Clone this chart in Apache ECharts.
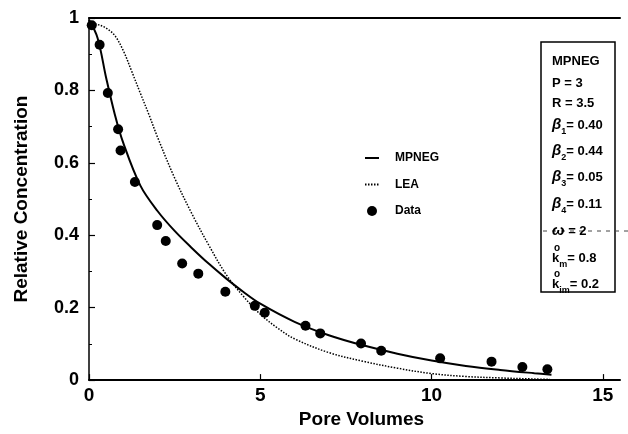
<!DOCTYPE html>
<html>
<head>
<meta charset="utf-8">
<script src="https://cdn.jsdelivr.net/npm/echarts@6/dist/echarts.min.js"></script>
<style>
    html, body { margin: 0; padding: 0; background: #fff; }
    #chart { width: 628px; height: 434px; }
</style>
</head>
<body>
<div id="chart"></div>
<script>
    // measured points
    var dataX = [0.08, 0.31, 0.55, 0.85, 0.92, 1.34, 1.99, 2.24, 2.72, 3.19, 3.98, 4.84, 5.13, 6.32, 6.75, 7.94, 8.53, 10.25, 11.75, 12.65, 13.38];
    var dataY = [0.98, 0.926, 0.793, 0.693, 0.634, 0.547, 0.428, 0.384, 0.322, 0.294, 0.244, 0.205, 0.186, 0.15, 0.129, 0.101, 0.081, 0.06, 0.051, 0.036, 0.03];

    // model curves
    var mpnegX = [0, 0.25, 0.5, 0.75, 1, 1.5, 2, 2.5, 3, 3.5, 4, 4.5, 5, 6, 7, 8, 9, 10, 11, 12, 13, 13.5];
    var mpnegY = [0.995, 0.945, 0.835, 0.735, 0.655, 0.537, 0.467, 0.412, 0.365, 0.321, 0.281, 0.244, 0.211, 0.161, 0.124, 0.096, 0.073, 0.054, 0.039, 0.028, 0.019, 0.015];
    var leaX = [0, 0.25, 0.5, 0.75, 1, 1.25, 1.5, 1.75, 2, 2.5, 3, 3.5, 4, 4.5, 5, 5.5, 6, 7, 8, 9, 10, 11, 12, 13, 13.45];
    var leaY = [0.985, 0.982, 0.972, 0.952, 0.91, 0.852, 0.792, 0.733, 0.671, 0.558, 0.46, 0.372, 0.292, 0.232, 0.182, 0.144, 0.114, 0.076, 0.052, 0.033, 0.018, 0.01, 0.006, 0.003, 0.002];

    var xTicks = [0, 5, 10, 15];
    var seriesNames = ['MPNEG', 'LEA', 'Data'];

    function zip(xs, ys) {
        return xs.map(function (x, i) { return [x, ys[i]]; });
    }

    var FONT = '"Liberation Sans", Arial, Helvetica, sans-serif';

    // parameter box on the right
    var rich = {
        t: { fontFamily: FONT, fontWeight: 'bold', fontSize: 13, lineHeight: 22, verticalAlign: 'middle', fill: '#000' },
        b: { fontFamily: FONT, fontWeight: 'bold', fontStyle: 'italic', fontSize: 15, lineHeight: 22, verticalAlign: 'middle', fill: '#000' },
        s: { fontFamily: FONT, fontWeight: 'bold', fontSize: 9, lineHeight: 10, verticalAlign: 'bottom', fill: '#000' }
    };
    var boxRows = [
        { text: '{t|MPNEG}', y: 61 },
        { text: '{t|P = 3}', y: 83 },
        { text: '{t|R = 3.5}', y: 103 },
        { text: '{b|β}{s|1}{t|= 0.40}', y: 125 },
        { text: '{b|β}{s|2}{t|= 0.44}', y: 151 },
        { text: '{b|β}{s|3}{t|= 0.05}', y: 177 },
        { text: '{b|β}{s|4}{t|= 0.11}', y: 204 },
        { text: '{b|ω}{t| = 2}', y: 231 },
        { text: '{t|k}{s|m}{t|= 0.8}', y: 258, sup: true },
        { text: '{t|k}{s|im}{t|= 0.2}', y: 284, sup: true }
    ];
    var graphic = [{
        type: 'rect',
        shape: { x: 541, y: 42, width: 74, height: 250 },
        style: { fill: '#fff', stroke: '#000', lineWidth: 1.5 },
        z: 10
    }, {
        type: 'line',
        shape: { x1: 543, y1: 231, x2: 628, y2: 231 },
        style: { stroke: '#444', lineWidth: 1, lineDash: [4, 5] },
        z: 11
    }];
    boxRows.forEach(function (r) {
        graphic.push({
            type: 'text', z: 12,
            style: { text: r.text, rich: rich, x: 552, y: r.y, verticalAlign: 'middle', align: 'left' }
        });
        if (r.sup) {
            graphic.push({
                type: 'text', z: 12,
                style: { text: 'o', x: 554, y: r.y - 10, verticalAlign: 'middle', fontFamily: FONT, fontWeight: 'bold', fontSize: 10, fill: '#000' }
            });
        }
    });

    var chart = echarts.init(document.getElementById('chart'));
    chart.setOption({
        animation: false,
        backgroundColor: '#fff',
        grid: { left: 89, right: 8, top: 18, bottom: 53 },
        legend: {
            orient: 'vertical',
            left: 359, top: 146,
            itemWidth: 14, itemHeight: 10, itemGap: 12.5,
            data: [
                { name: seriesNames[0], itemStyle: { opacity: 0 } },
                { name: seriesNames[1], itemStyle: { opacity: 0 } },
                { name: seriesNames[2], icon: 'circle' }
            ],
            textStyle: { fontFamily: FONT, fontWeight: 'bold', fontSize: 12, color: '#000', lineHeight: 14, padding: [0, 0, 0, 11] }
        },
        xAxis: [{
            type: 'value', min: 0, max: 15.5, interval: 5,
            name: 'Pore Volumes', nameLocation: 'middle', nameGap: 24,
            nameTextStyle: { fontFamily: FONT, fontWeight: 'bold', fontSize: 19, color: '#000', padding: [0, 0, 0, 14] },
            axisLine: { lineStyle: { color: '#000', width: 2 } },
            axisTick: { inside: true, length: 6, lineStyle: { color: '#000', width: 1.2 }, customValues: xTicks },
            axisLabel: {
                customValues: xTicks,
                fontFamily: FONT, fontWeight: 'bold', fontSize: 19, color: '#000', margin: 6,
                formatter: function (v) { return v % 5 === 0 ? String(v) : ''; }
            },
            splitLine: { show: false }
        }, {
            type: 'value', min: 0, max: 15.5, position: 'top',
            axisLine: { show: true, lineStyle: { color: '#000', width: 2 } },
            axisTick: { show: false }, axisLabel: { show: false }, splitLine: { show: false }
        }],
        yAxis: {
            type: 'value', min: 0, max: 1, interval: 0.2,
            name: 'Relative Concentration', nameLocation: 'middle', nameGap: 58,
            nameTextStyle: { fontFamily: FONT, fontWeight: 'bold', fontSize: 19, color: '#000' },
            axisLine: { show: true, lineStyle: { color: '#000', width: 1.5 } },
            axisTick: { inside: true, length: 6, lineStyle: { color: '#000', width: 1.2 } },
            minorTick: { show: true, splitNumber: 2, length: 3, lineStyle: { color: '#000', width: 1 } },
            axisLabel: { fontFamily: FONT, fontWeight: 'bold', fontSize: 18, color: '#000', margin: 10 },
            splitLine: { show: false }
        },
        graphic: graphic,
        series: [{
            name: seriesNames[0], type: 'line', data: zip(mpnegX, mpnegY),
            smooth: 0.35, symbol: 'none', showSymbol: false,
            lineStyle: { color: '#000', width: 2 }, itemStyle: { color: '#000' }, z: 3
        }, {
            name: seriesNames[1], type: 'line', data: zip(leaX, leaY),
            smooth: 0.35, symbol: 'none', showSymbol: false,
            lineStyle: { color: '#000', width: 1.5, type: [1.5, 1.5] }, itemStyle: { color: '#000' }, z: 2
        }, {
            name: seriesNames[2], type: 'scatter', data: zip(dataX, dataY),
            symbol: 'circle', symbolSize: 10,
            itemStyle: { color: '#000', opacity: 1 }, z: 4
        }]
    });
</script>
</body>
</html>
